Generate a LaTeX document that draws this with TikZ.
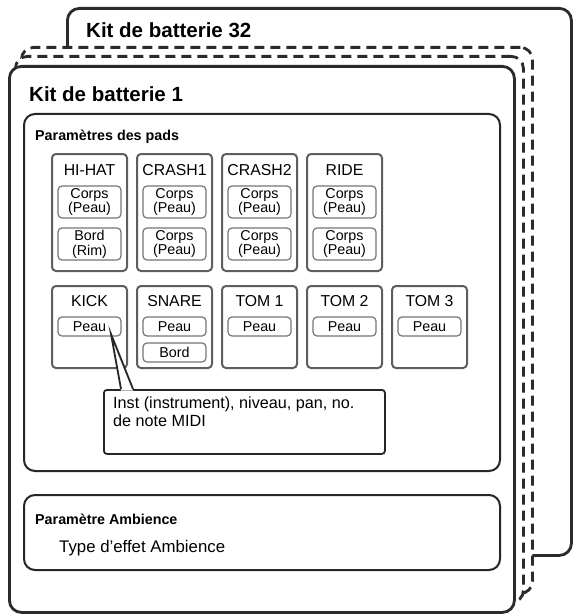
\documentclass[tikz,border=0pt]{standalone}
\usepackage{fontspec}
\setmainfont{Liberation Sans}
\usetikzlibrary{positioning}

\definecolor{kitline}{HTML}{2B2B2B}
\definecolor{padline}{HTML}{5E5E5E}
\definecolor{subline}{HTML}{767676}

\tikzset{
  kitbox/.style={draw=kitline,line width=2.8pt,fill=white,rounded corners=12pt,
                 anchor=north west,inner sep=0pt},
  kitdash/.style={kitbox,dash pattern=on 10pt off 6pt},
  groupbox/.style={draw=black!85,line width=2pt,rounded corners=11pt,
                   anchor=north west,inner sep=0pt},
  padbox/.style={draw=padline,line width=2pt,rounded corners=4pt,
                 minimum width=75pt,inner sep=0pt},
  subbox/.style={draw=subline,line width=1.2pt,rounded corners=4pt,minimum width=63pt,
                 inner sep=0pt,align=center,font=\fontsize{14.3}{14.8}\selectfont},
  padtitle/.style={anchor=base,inner sep=0pt,font=\fontsize{15.8}{18}\selectfont},
  sectitle/.style={anchor=base west,inner sep=0pt,font=\fontsize{14.3}{17}\selectfont\bfseries},
}

\begin{document}
\begin{tikzpicture}[x=1pt,y=-1pt,node distance=85pt]
\useasboundingbox (0,0) rectangle (573,615);
% stacked kits, back to front
\node[kitbox,minimum width=504pt,minimum height=547pt] (kit32) at (66,7) {};
\node[anchor=base west,inner sep=0pt,font=\fontsize{20.5}{24}\selectfont\bfseries]
      (kit32title) at (86,38) {Kit de batterie 32};
\node[kitdash,minimum width=511pt,minimum height=546pt] (kitA) at (20,46) {};
\node[kitdash,minimum width=508pt,minimum height=546pt] (kitB) at (14,55) {};
\node[kitbox,minimum width=505pt,minimum height=546pt] (kit1) at (8,65) {};
\node[anchor=base west,inner sep=0pt,font=\fontsize{20.5}{24}\selectfont\bfseries]
      (kit1title) at (29,102) {Kit de batterie 1};
% pad parameters
\node[groupbox,minimum width=476pt,minimum height=357pt] (pads) at (23,113) {};
\node[sectitle] (padstitle) at (35,140) {Paramètres des pads};
% first row
\node[padbox,minimum height=117pt] (hihat) at (89.5,212.5) {};
\node[padbox,minimum height=117pt,right of=hihat] (crash1) {};
\node[padbox,minimum height=117pt,right of=crash1] (crash2) {};
\node[padbox,minimum height=117pt,right of=crash2] (ride) {};
\node[padtitle] (hihatT) at ([yshift=-22pt]hihat.north) {HI-HAT};
\node[padtitle] (crash1T) at ([yshift=-22pt]crash1.north) {CRASH1};
\node[padtitle] (crash2T) at ([yshift=-22pt]crash2.north) {CRASH2};
\node[padtitle] (rideT) at ([yshift=-22pt]ride.north) {RIDE};
\node[subbox,minimum height=32pt] (hihatA) at ([yshift=-49pt]hihat.north) {Corps\\(Peau)};
\node[subbox,minimum height=32pt] (hihatB) at ([yshift=-91pt]hihat.north) {Bord\\(Rim)};
\node[subbox,minimum height=32pt] (crash1A) at ([yshift=-49pt]crash1.north) {Corps\\(Peau)};
\node[subbox,minimum height=32pt] (crash1B) at ([yshift=-91pt]crash1.north) {Corps\\(Peau)};
\node[subbox,minimum height=32pt] (crash2A) at ([yshift=-49pt]crash2.north) {Corps\\(Peau)};
\node[subbox,minimum height=32pt] (crash2B) at ([yshift=-91pt]crash2.north) {Corps\\(Peau)};
\node[subbox,minimum height=32pt] (rideA) at ([yshift=-49pt]ride.north) {Corps\\(Peau)};
\node[subbox,minimum height=32pt] (rideB) at ([yshift=-91pt]ride.north) {Corps\\(Peau)};
% second row
\node[padbox,minimum height=82pt] (kick) at (89.5,327) {};
\node[padbox,minimum height=82pt,right of=kick] (snare) {};
\node[padbox,minimum height=82pt,right of=snare] (tom1) {};
\node[padbox,minimum height=82pt,right of=tom1] (tom2) {};
\node[padbox,minimum height=82pt,right of=tom2] (tom3) {};
\node[padtitle] (kickT) at ([yshift=-21.5pt]kick.north) {KICK};
\node[padtitle] (snareT) at ([yshift=-21.5pt]snare.north) {SNARE};
\node[padtitle] (tom1T) at ([yshift=-21.5pt]tom1.north) {TOM 1};
\node[padtitle] (tom2T) at ([yshift=-21.5pt]tom2.north) {TOM 2};
\node[padtitle] (tom3T) at ([yshift=-21.5pt]tom3.north) {TOM 3};
\node[subbox,minimum height=19pt] (kickA) at ([yshift=-41.5pt]kick.north) {Peau};
\node[subbox,minimum height=19pt] (snareA) at ([yshift=-41.5pt]snare.north) {Peau};
\node[subbox,minimum height=19pt] (snareB) at ([yshift=-67.5pt]snare.north) {Bord};
\node[subbox,minimum height=19pt] (tom1A) at ([yshift=-41.5pt]tom1.north) {Peau};
\node[subbox,minimum height=19pt] (tom2A) at ([yshift=-41.5pt]tom2.north) {Peau};
\node[subbox,minimum height=19pt] (tom3A) at ([yshift=-41.5pt]tom3.north) {Peau};
% callout on the kick head
\node[draw=black!85,line width=1.8pt,rounded corners=3pt,anchor=north west,inner sep=0pt,
      minimum width=281pt,minimum height=64pt] (note) at (103,389) {};
\node[anchor=north west,inner sep=0pt,align=left,font=\fontsize{16.2}{18}\selectfont]
      (notetext) at (113,397) {Inst (instrument), niveau, pan, no.\\de note MIDI};
\coordinate (tip) at (111,334);
\coordinate (noteL) at (121,389);
\coordinate (noteR) at (133,389);
\fill[white] ([yshift=-1.5pt]noteL) -- (tip) -- ([yshift=-1.5pt]noteR) -- cycle;
\draw[black!85,line width=1.8pt,line join=miter] (noteL) -- (tip) -- (noteR);
% ambience
\node[groupbox,minimum width=476pt,minimum height=75pt] (amb) at (23,494) {};
\node[sectitle] (ambtitle) at (35,524) {Paramètre Ambience};
\node[anchor=base west,inner sep=0pt,font=\fontsize{16.8}{19}\selectfont]
      (ambtype) at (59,552) {Type d’effet Ambience};
\end{tikzpicture}
\end{document}
